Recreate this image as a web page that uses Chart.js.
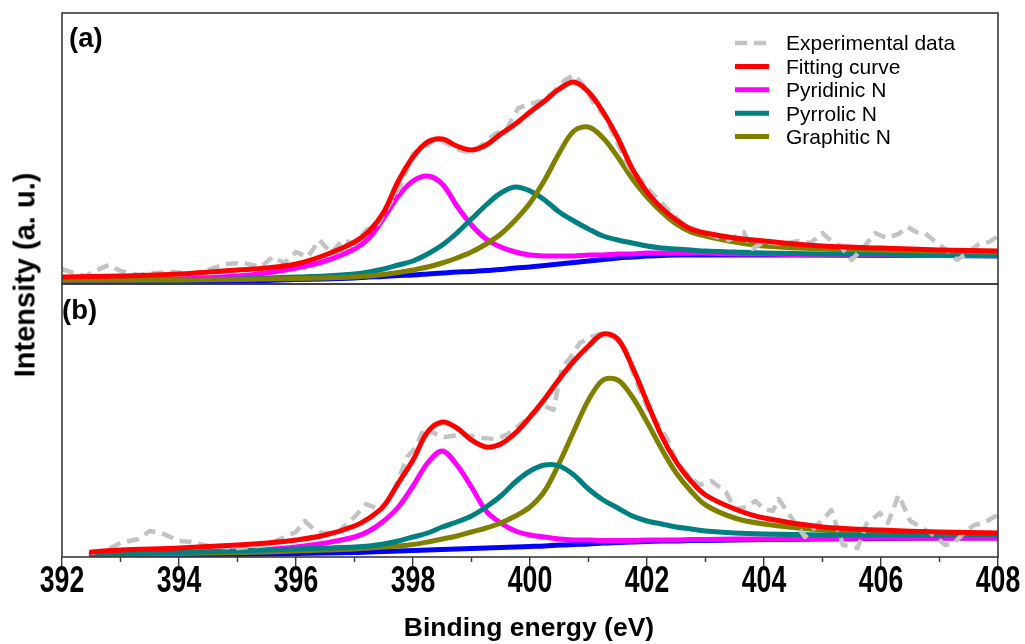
<!DOCTYPE html>
<html>
<head>
<meta charset="utf-8">
<title>N 1s XPS spectra</title>
<script src="https://cdn.jsdelivr.net/npm/chart.js@4.4.1/dist/chart.umd.min.js"></script>
<style>
  html, body { margin: 0; padding: 0; background: #fff; }
  #wrap { position: relative; width: 1025px; height: 644px; overflow: hidden; }
  #chart { position: absolute; left: 0; top: 0; }
  .txt { position: absolute; font-family: "Liberation Sans", Arial, sans-serif; font-weight: bold;
         color: #000; white-space: nowrap; line-height: 1; }
  .centered { transform: translate(-50%, -50%); }
  .vertical { transform: translate(-50%, -50%) rotate(-90deg); }
</style>
</head>
<body>
<div id="wrap">
  <canvas id="chart" width="1025" height="644"></canvas>
  <div class="txt" style="left:69px; top:24px; font-size:27.5px;">(a)</div>
  <div class="txt" style="left:62px; top:296px; font-size:27.5px;">(b)</div>
  <div class="txt vertical" style="left:25px; top:275px; font-size:29px;">Intensity (a. u.)</div>
  <div class="txt centered" style="left:529px; top:627px; font-size:26.5px;">Binding energy (eV)</div>
</div>
<script>
// ---- Panel (a): fitted components on a shared energy grid (eV) ----
const energyA = [392, 393, 394, 395, 395.5, 396, 396.5, 397, 397.25, 397.5, 397.75, 398, 398.25, 398.5, 398.75,
  399, 399.25, 399.5, 399.75, 400, 400.25, 400.5, 400.75, 401, 401.25, 401.5, 401.75, 402, 402.25, 402.5, 402.75,
  403, 403.5, 404, 405, 406, 407, 408];
const fitA = [7, 8, 10, 14, 16, 20, 29, 42, 53, 72, 103, 127, 142, 145, 138,
  134, 139, 150, 160, 172, 183, 195, 202, 192, 172, 146, 115, 92, 76, 64, 55,
  51, 46, 43, 38, 36, 34, 33];
const pyridinicA = [4, 4, 5, 8, 11, 16, 23, 35, 46, 66, 88, 103, 108, 100, 78,
  59, 45, 37, 32, 29, 28, 28, 28, 29, 29, 30, 30, 31, 31, 31, 31,
  31, 30, 30, 29, 29, 28.5, 28.5];
const pyrrolicA = [4, 4, 4, 5, 6, 7, 8, 10, 12, 15, 19, 23, 30, 39, 51,
  65, 79, 91, 97, 93, 84, 72, 63, 55, 48, 44, 41, 38, 36, 35, 34,
  33, 32, 31, 30, 30, 29, 29];
const graphiticA = [4, 4, 4, 4.5, 5, 5.5, 6, 7, 8, 9.5, 11.5, 14, 17, 21, 26,
  32, 40, 50, 64, 81, 104, 131, 153, 157, 146, 127, 105, 87, 72, 60, 52,
  48, 42, 38, 35, 34, 33, 32];
const backgroundA = [1, 1.5, 2, 3, 3.5, 4.5, 5, 6, 7, 7.5, 8.5, 9, 10, 11, 12,
  12.5, 13.5, 14.5, 16, 17, 18.5, 20, 21.5, 23, 24.5, 26, 27, 28, 28.5, 29, 29,
  29, 29, 29, 29, 28.5, 28.5, 28];

// ---- Panel (a): measured spectrum ----
const expEnergyA = [392.0, 392.2, 392.4, 392.6, 392.8, 393.0, 393.3, 393.6, 393.9, 394.2, 394.5, 394.8, 395.1,
  395.4, 395.6, 395.8, 396.0, 396.2, 396.4, 396.6, 396.8, 397.0, 397.2, 397.4, 397.6, 397.8, 398.0, 398.2,
  398.4, 398.6, 398.8, 399.0, 399.2, 399.4, 399.6, 399.8, 400.0, 400.2, 400.4, 400.6, 400.75, 400.9, 401.1,
  401.3, 401.5, 401.7, 401.9, 402.0, 402.2, 402.4, 402.6, 402.8, 403.0, 403.2, 403.4, 403.65, 403.8, 404.0,
  404.3, 404.6, 404.8, 405.0, 405.15, 405.3, 405.5, 405.75, 405.9, 406.1, 406.3, 406.45, 406.6, 406.75,
  406.95, 407.15, 407.3, 407.45, 407.7, 407.85, 408.0];
const expA = [15, 11, 8, 14, 19, 13, 9, 11, 12, 10, 14, 20, 21,
  17, 27, 21, 32, 27, 44, 31, 44, 40, 54, 60, 80, 100, 130, 137,
  146, 140, 134, 131, 140, 150, 155, 176, 180, 183, 192, 204, 209, 200, 180,
  166, 140, 116, 104, 96, 84, 72, 61, 55, 51, 47, 44, 52, 35, 42,
  40, 43, 41, 51, 43, 38, 24, 40, 51, 46, 50, 57, 52, 51,
  41, 33, 24, 30, 41, 42, 48];

// ---- Panel (b): fitted components ----
const energyB = [392.5, 393, 394, 395, 395.5, 396, 396.5, 397, 397.25, 397.5, 397.75, 398, 398.25, 398.5, 398.75,
  399, 399.25, 399.5, 399.75, 400, 400.25, 400.5, 400.75, 401, 401.25, 401.5, 401.75, 402, 402.25, 402.5, 402.75,
  403, 403.5, 404, 405, 406, 407, 408];
const fitB = [5, 7, 9, 12, 14, 17, 22, 31, 39, 51, 74, 97, 125, 135, 129,
  117, 110, 113, 124, 140, 158, 178, 196, 211, 223, 218, 190, 155, 121, 95, 76,
  62, 48, 39, 30, 27, 25, 24];
const pyridinicB = [3, 3.5, 4.5, 6, 7.5, 10, 14, 20, 26, 36, 50, 71, 94, 106, 92,
  70, 46, 34, 26, 22, 20, 18, 17, 17, 16.5, 16.5, 16.5, 17, 17, 17, 17.5,
  17.5, 18, 18, 18.5, 19, 19, 19];
const pyrrolicB = [3, 3.5, 4.5, 6, 7, 8, 9, 10, 11, 13, 16, 20, 24, 30, 35,
  41, 50, 61, 75, 86, 92, 91, 82, 68, 57, 49, 41, 36, 33, 30, 28,
  26, 24, 23, 22, 22, 22, 22];
const graphiticB = [2, 2.5, 3.5, 4.5, 5, 6, 7, 8, 9, 10, 11, 12.5, 15, 18, 21,
  25, 29, 34, 41, 50, 66, 94, 126, 157, 177, 177, 160, 135, 108, 84, 66,
  52, 39, 33, 27, 24, 23, 22];
const backgroundB = [1, 1.2, 1.8, 2.5, 3, 3.5, 4, 4.5, 5, 5.5, 6, 6.5, 7, 7.5, 8,
  8.5, 9, 9.5, 10, 10.5, 11, 12, 12.5, 13, 14, 14.5, 15, 15.5, 16, 16, 16.5,
  16.5, 17, 17.5, 18, 18.5, 19, 19];

// ---- Panel (b): measured spectrum ----
const expEnergyB = [392.5, 392.8, 393.0, 393.3, 393.5, 393.7, 394.0, 394.2, 394.5, 395.0, 395.5, 396.0, 396.15,
  396.3, 396.45, 396.7, 397.0, 397.2, 397.4, 397.55, 397.7, 397.9, 398.05, 398.2, 398.35, 398.55, 398.8,
  399.0, 399.2, 399.4, 399.6, 399.8, 400.0, 400.2, 400.4, 400.55, 400.7, 400.85, 401.05, 401.2, 401.4,
  401.6, 401.8, 402.0, 402.15, 402.35, 402.5, 402.7, 402.9, 403.1, 403.35, 403.5, 403.7, 403.85, 404.0,
  404.15, 404.25, 404.4, 404.7, 405.05, 405.15, 405.35, 405.6, 405.75, 405.98, 406.12, 406.3, 406.5,
  406.85, 407.1, 407.25, 407.45, 407.6, 407.75, 408.0];
const expB = [4, 8, 14, 18, 26, 24, 16, 15, 11, 9, 12, 25, 36,
  28, 24, 24, 40, 53, 48, 54, 70, 100, 110, 130, 124, 120, 122,
  121, 119, 118, 122, 131, 140, 152, 147, 190, 200, 214, 220, 223, 221,
  211, 178, 150, 136, 118, 96, 82, 72, 76, 65, 48, 50, 56, 48,
  46, 58, 45, 20, 40, 47, 12, 9, 33, 44, 34, 62, 36,
  24, 12, 14, 26, 32, 34, 42];

// ---- Axis ----
const energyMin = 392;
const energyMax = 408;
const energyStep = 2;

// ---- Styling ----
const COLORS = {
  exp: '#c3c3c3',
  fit: '#ff0000',
  pyridinic: '#ff00ff',
  pyrrolic: '#008080',
  graphitic: '#808000',
  background: '#0000ff'
};
const FRAME_COLOR = '#3a3a3a';

const pts = (xs, ys) => xs.map((x, i) => ({ x, y: ys[i] }));

function curve(label, xs, ys, color, axis, order, legendRank) {
  return {
    label, data: pts(xs, ys), yAxisID: axis, order, legendRank,
    borderColor: color, backgroundColor: color, borderWidth: 5,
    pointRadius: 0, fill: false, tension: 0.35,
    borderCapStyle: 'round', borderJoinStyle: 'round'
  };
}
function measured(label, xs, ys, axis, legendRank) {
  return {
    label, data: pts(xs, ys), yAxisID: axis, order: 2, legendRank,
    borderColor: COLORS.exp, backgroundColor: COLORS.exp, borderWidth: 4.5,
    borderDash: [12, 7], pointRadius: 0, fill: false, tension: 0,
    borderCapStyle: 'butt', borderJoinStyle: 'round'
  };
}

const datasets = [
  measured('Experimental data', expEnergyA, expA, 'yA', 0),
  curve('Fitting curve', energyA, fitA, COLORS.fit, 'yA', 1, 1),
  curve('Pyridinic N', energyA, pyridinicA, COLORS.pyridinic, 'yA', 5, 2),
  curve('Pyrrolic N', energyA, pyrrolicA, COLORS.pyrrolic, 'yA', 4, 3),
  curve('Graphitic N', energyA, graphiticA, COLORS.graphitic, 'yA', 3, 4),
  curve('Background', energyA, backgroundA, COLORS.background, 'yA', 6),

  measured('Experimental data (b)', expEnergyB, expB, 'yB'),
  curve('Fitting curve (b)', energyB, fitB, COLORS.fit, 'yB', 1),
  curve('Pyridinic N (b)', energyB, pyridinicB, COLORS.pyridinic, 'yB', 5),
  curve('Pyrrolic N (b)', energyB, pyrrolicB, COLORS.pyrrolic, 'yB', 3),
  curve('Graphitic N (b)', energyB, graphiticB, COLORS.graphitic, 'yB', 4),
  curve('Background (b)', energyB, backgroundB, COLORS.background, 'yB', 6)
];

// Box around each panel, minor ticks and the narrow bold energy labels
const panelFrames = {
  id: 'panelFrames',
  afterDatasetsDraw(chart, args, opts) {
    const { ctx } = chart;
    const x = chart.scales.x;
    ctx.save();
    ctx.strokeStyle = FRAME_COLOR;
    ctx.lineWidth = 1.6;
    ['yA', 'yB'].forEach(id => {
      const y = chart.scales[id];
      ctx.strokeRect(x.left, y.top, x.right - x.left, y.bottom - y.top);
    });
    ctx.lineWidth = 1.4;
    for (let v = energyMin + 1; v < energyMax; v += energyStep) {
      const px = x.getPixelForValue(v);
      ctx.beginPath();
      ctx.moveTo(px, x.top);
      ctx.lineTo(px, x.top + 5);
      ctx.stroke();
    }
    // energy tick labels, horizontally condensed
    ctx.fillStyle = '#000';
    ctx.font = opts.labelFont;
    ctx.textAlign = 'center';
    ctx.textBaseline = 'alphabetic';
    x.ticks.forEach(t => {
      const label = (t.label !== undefined && t.label !== '') ? String(t.label) : String(t.value);
      ctx.save();
      ctx.translate(x.getPixelForValue(t.value), x.top + opts.labelBaseline);
      ctx.scale(opts.labelSqueeze, 1);
      ctx.fillText(label, 0, 0);
      ctx.restore();
    });
    ctx.restore();
  }
};

// Legend inside panel (a), built from the dataset styles
const panelLegend = {
  id: 'panelLegend',
  afterDraw(chart, args, opts) {
    const { ctx } = chart;
    const items = chart.data.datasets
      .filter(d => d.legendRank !== undefined)
      .sort((a, b) => a.legendRank - b.legendRank);
    ctx.save();
    ctx.font = opts.font;
    ctx.fillStyle = '#000';
    ctx.textBaseline = 'alphabetic';
    items.forEach((d, i) => {
      const cy = opts.top + i * opts.rowStep;
      ctx.beginPath();
      ctx.strokeStyle = d.borderColor;
      ctx.lineWidth = d.borderWidth;
      ctx.setLineDash(d.borderDash || []);
      ctx.moveTo(opts.lineStart, cy);
      ctx.lineTo(opts.lineEnd, cy);
      ctx.stroke();
      ctx.setLineDash([]);
      ctx.fillText(d.label, opts.textX, cy + opts.baselineShift);
    });
    ctx.restore();
  }
};

new Chart(document.getElementById('chart'), {
  type: 'line',
  data: { datasets },
  plugins: [panelFrames, panelLegend],
  options: {
    responsive: false,
    animation: false,
    devicePixelRatio: 1,
    layout: { padding: { left: 62, right: 27, top: 13, bottom: 0 } },
    plugins: {
      legend: { display: false },
      tooltip: { enabled: false },
      panelFrames: {
        labelFont: 'bold 37px "Liberation Sans", Arial, sans-serif',
        labelBaseline: 35, labelSqueeze: 0.72
      },
      panelLegend: {
        font: '21px "Liberation Sans", Arial, sans-serif',
        top: 43, rowStep: 23.4, lineStart: 735, lineEnd: 769, textX: 786, baselineShift: 7.3
      }
    },
    scales: {
      x: {
        type: 'linear', position: 'bottom', min: energyMin, max: energyMax,
        afterFit(s) { s.height = 87; },
        border: { display: false },
        grid: { drawOnChartArea: false, drawTicks: true, tickLength: 9, color: FRAME_COLOR, lineWidth: 1.4 },
        ticks: { stepSize: energyStep, autoSkip: false, maxRotation: 0, display: false }
      },
      // stacked panels: the first listed sits at the bottom
      yB: {
        type: 'linear', position: 'left', stack: 'panels', stackWeight: 273, min: 0, max: 273,
        afterFit(s) { s.width = 0; },
        grid: { display: false }, border: { display: false }, ticks: { display: false }
      },
      yA: {
        type: 'linear', position: 'left', stack: 'panels', stackWeight: 271, min: 0, max: 271,
        afterFit(s) { s.width = 0; },
        grid: { display: false }, border: { display: false }, ticks: { display: false }
      }
    }
  }
});
</script>
</body>
</html>
